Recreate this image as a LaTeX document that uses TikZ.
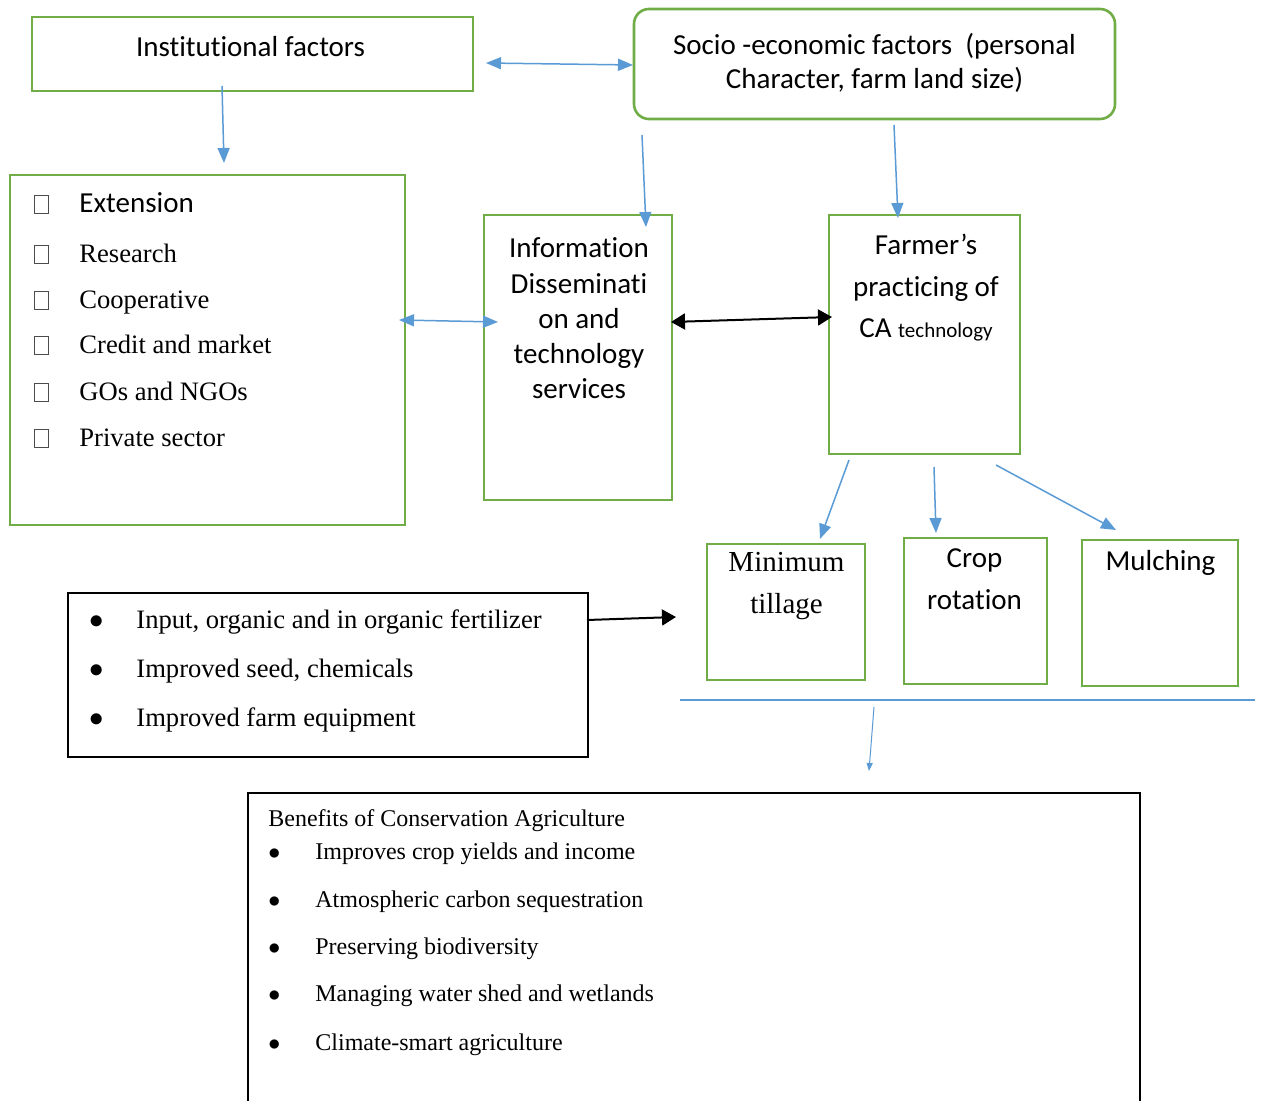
\documentclass[tikz,border=0pt]{standalone}
\usepackage{fontspec}
\setmainfont{Liberation Serif}
\newfontfamily\calib[Ligatures=CommonOff]{Carlito}
\usepackage{xcolor}
\usepackage{tikz}
\usetikzlibrary{arrows.meta,positioning,fit}
\definecolor{leafgreen}{HTML}{70AD47}
\definecolor{skyblue}{HTML}{5B9BD5}
\newcommand\chk{{\color{black!70}\setlength\fboxsep{0pt}\setlength\fboxrule{0.5pt}\fbox{\rule{0pt}{8.5pt}\hspace{6.5pt}}}}
\newcommand\dotitem{\makebox[23.5pt][l]{$\bullet$}}

\begin{document}
\begin{tikzpicture}[x=0.5pt, y=-0.5pt,
    gbox/.style={draw=leafgreen, line width=1.3pt, inner sep=0pt, outer sep=0pt},
    kbox/.style={draw=black, line width=0.9pt, inner sep=0pt, outer sep=0pt},
    cal/.style={font=\calib\fontsize{14.5pt}{17.7pt}\selectfont, inner sep=0pt, anchor=base, align=center},
    tnr/.style={font=\fontsize{13.3pt}{16pt}\selectfont, inner sep=0pt, anchor=base west},
    small/.style={font=\fontsize{12pt}{14pt}\selectfont, inner sep=0pt, anchor=base west},
    barrow/.style={draw=skyblue, line width=0.75pt, >={Triangle[length=7.5pt,width=6pt]}},
    karrow/.style={draw=black, line width=1pt, >={Triangle[length=7pt,width=8pt]}},
    tarrow/.style={draw=skyblue, line width=0.5pt, >={Triangle[length=4pt,width=3pt]}}]
    \path[use as bounding box, fill=white] (0,0) rectangle (1265,1101);

    \node[gbox, fit={(32,17) (473,91)}] (inst) {};
    \node[gbox, rounded corners=7.5pt, fit={(634,9) (1115,119)}] (socio) {};
    \node[gbox, fit={(10,175) (405,525)}] (ext) {};
    \node[gbox, fit={(484,215) (672,500)}] (info) {};
    \node[gbox, fit={(829,215) (1020,454)}] (farmer) {};
    \node[gbox, fit={(707,544) (865,680)}] (mintill) {};
    \node[gbox, fit={(904,538) (1047,684)}] (crop) {};
    \node[gbox, fit={(1082,540) (1238,686)}] (mulch) {};
    \node[kbox, fit={(68,593) (588,757)}] (input) {};
    \node[kbox, fit={(248,793) (1140,1120)}] (benefit) {};

    \node[cal] (inst-t) at (250.5,57) {Institutional factors};
    \node[cal, font=\calib\fontsize{14.5pt}{17pt}\selectfont] (socio-t) at (874.5,89)
        {Socio -economic factors~ (personal\\Character, farm land size)};
    \node[cal, font=\calib\fontsize{14.5pt}{17.65pt}\selectfont] (info-t) at (579,399)
        {Information\\Disseminati\\on and\\technology\\services};
    \node[cal, font=\calib\fontsize{14.5pt}{20.75pt}\selectfont] (farmer-t) at (926,338)
        {Farmer’s\\practicing of\\CA {\fontsize{10.5pt}{12pt}\selectfont technology}};
    \node[cal, font=\fontsize{14.5pt}{21pt}\selectfont] (mintill-t) at (786.5,614) {Minimum\\tillage};
    \node[cal, font=\calib\fontsize{14.5pt}{21pt}\selectfont] (crop-t) at (974.5,610) {Crop\\rotation};
    \node[cal] (mulch-t) at (1160.5,571) {Mulching};

    \node[tnr] (ext-1) at (34,213) {\makebox[22.5pt][l]{\chk}{\calib\fontsize{14.5pt}{17pt}\selectfont Extension}};
    \foreach \i/\y/\t in {2/263/Research, 3/309/Cooperative, 4/354/Credit and market,
                          5/401/GOs and NGOs, 6/447/Private sector}
        \node[tnr] (ext-\i) at (34,\y) {\makebox[22.5pt][l]{\chk}\t};

    \foreach \i/\y/\t in {1/629/{Input, organic and in organic fertilizer},
                          2/677/{Improved seed, chemicals}, 3/726/Improved farm equipment}
        \node[tnr] (input-\i) at (89,\y) {\dotitem\t};

    \node[small] (benefit-t) at (268,827) {Benefits of Conservation Agriculture};
    \foreach \i/\y/\t in {1/859/Improves crop yields and income, 2/907/Atmospheric carbon sequestration,
                          3/954/Preserving biodiversity, 4/1001/Managing water shed and wetlands,
                          5/1050/Climate-smart agriculture}
        \node[small] (benefit-\i) at (268,\y) {\dotitem\t};

    \draw[barrow, <->] ([shift={(13,9)}]inst.east) -- ([shift={(-1,1)}]socio.west);
    \draw[barrow, ->] ([shift={(-30.5,-5)}]inst.south) -- ([shift={(16.5,-12)}]ext.north);
    \draw[barrow, ->] ([shift={(8,16)}]socio.south west) -- ([shift={(-26,12)}]info.north east);
    \draw[barrow, ->] ([shift={(19.5,6)}]socio.south) -- ([shift={(-26.5,3)}]farmer.north);
    \draw[barrow, <->] ([shift={(-6,-30)}]ext.east) -- ([shift={(14,-35.5)}]info.west);
    \draw[karrow, <->] ([shift={(-1,-35.5)}]info.east) -- ([shift={(3,-17.5)}]farmer.west);
    \draw[barrow, ->] ([shift={(-75.5,6)}]farmer.south) -- ([shift={(34,-5)}]mintill.north);
    \draw[barrow, ->] ([shift={(9.5,13)}]farmer.south) -- ([shift={(-39.5,-5)}]crop.north);
    \draw[barrow, ->] ([shift={(71.5,11)}]farmer.south) -- ([shift={(-44,-10)}]mulch.north);
    \draw[karrow, ->] ([shift={(-1,-55)}]input.east) -- ([shift={(-31,5)}]mintill.west);

    \coordinate (bar-w) at (680,700);
    \coordinate (bar-e) at (1255,700);
    \coordinate (bar-drop) at (874,707);
    \draw[skyblue, line width=0.6pt] (bar-w) -- (bar-e);
    \draw[tarrow, ->] (bar-drop) -- ([shift={(621,-22)}]benefit.north west);
\end{tikzpicture}
\end{document}
